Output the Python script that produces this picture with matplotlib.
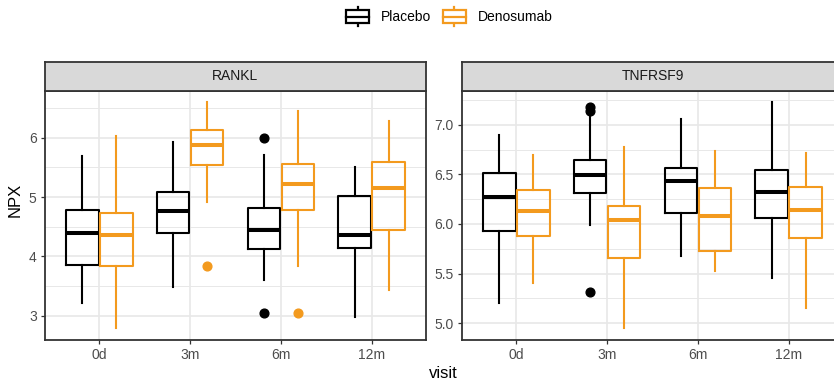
import matplotlib
matplotlib.use("Agg")
import matplotlib.pyplot as plt
from matplotlib.patches import Rectangle
from matplotlib.lines import Line2D
from matplotlib.legend_handler import HandlerBase
from matplotlib.ticker import MultipleLocator

plt.rcParams["font.family"] = ["Liberation Sans", "DejaVu Sans"]

visits = ["0d", "3m", "6m", "12m"]
groups = ["Placebo", "Denosumab"]

# five-number summaries per visit: whisker low, Q1, median, Q3, whisker high
rankl_placebo = [[3.21, 3.85, 4.40, 4.78, 5.69],
                 [3.49, 4.39, 4.77, 5.09, 5.93],
                 [3.60, 4.12, 4.45, 4.81, 5.71],
                 [2.98, 4.14, 4.36, 5.02, 5.51]]
rankl_denosumab = [[2.79, 3.83, 4.36, 4.73, 6.03],
                   [4.91, 5.54, 5.88, 6.14, 6.61],
                   [3.84, 4.78, 5.22, 5.56, 6.46],
                   [3.43, 4.45, 5.16, 5.59, 6.29]]
rankl_placebo_out = [[], [], [6.00, 3.04], []]
rankl_denosumab_out = [[], [3.83], [3.04], []]

tnf_placebo = [[5.20, 5.93, 6.27, 6.51, 6.90],
               [5.99, 6.31, 6.49, 6.64, 7.12],
               [5.68, 6.11, 6.43, 6.56, 7.06],
               [5.45, 6.06, 6.32, 6.54, 7.23]]
tnf_denosumab = [[5.40, 5.88, 6.13, 6.34, 6.69],
                 [4.95, 5.66, 6.04, 6.18, 6.78],
                 [5.53, 5.73, 6.08, 6.36, 6.74],
                 [5.15, 5.86, 6.14, 6.37, 6.72]]
tnf_placebo_out = [[], [7.18, 7.14, 5.31], [], []]
tnf_denosumab_out = [[], [], [], []]

rankl_ticks = [3, 4, 5, 6]
tnf_ticks = [5.0, 5.5, 6.0, 6.5, 7.0]

colors = {"Placebo": "#000000", "Denosumab": "#F39A1E"}
GRID = "#e8e8e8"
BORDER = "#333333"
TICKCOL = "#4d4d4d"

W, H = 834, 385
fig = plt.figure(figsize=(W / 100, H / 100), dpi=100)


def fig_rect(x0, y0, x1, y1):
    return [x0 / W, 1 - y1 / H, (x1 - x0) / W, (y1 - y0) / H]


def stats_list(summary, outliers):
    out = []
    for s, o in zip(summary, outliers):
        out.append(dict(whislo=s[0], q1=s[1], med=s[2], q3=s[3], whishi=s[4], fliers=o))
    return out


def draw_panel(px0, title, series, outs, ylim, yticks, ylabels, minor):
    ax = fig.add_axes(fig_rect(px0, 91, px0 + 381, 340))
    ax.set_facecolor("white")
    ax.set_axisbelow(True)
    ax.grid(True, which="major", color=GRID, lw=1.2)
    ax.yaxis.set_minor_locator(MultipleLocator(minor))
    ax.grid(True, which="minor", axis="y", color=GRID, lw=0.7)
    offsets = [-0.1875, 0.1875]
    for g, off in zip(groups, offsets):
        c = colors[g]
        pos = [i + 1 + off for i in range(len(visits))]
        ax.bxp(stats_list(series[g], outs[g]), positions=pos, widths=0.36,
               showcaps=False, patch_artist=False, manage_ticks=False,
               boxprops=dict(color=c, lw=1.5),
               whiskerprops=dict(color=c, lw=1.5),
               medianprops=dict(color=c, lw=2.9, solid_capstyle="butt"),
               flierprops=dict(marker="o", markerfacecolor=c, markeredgecolor=c,
                               markersize=6.3, linestyle="none"))
    ax.set_xlim(0.4, 4.6)
    ax.set_ylim(*ylim)
    ax.set_xticks(range(1, len(visits) + 1))
    ax.set_xticklabels(visits)
    ax.set_yticks(yticks)
    ax.set_yticklabels(ylabels)
    ax.tick_params(axis="both", which="major", colors=BORDER, labelcolor=TICKCOL,
                   labelsize=10, length=3, width=0.9, pad=3)
    ax.tick_params(axis="y", which="minor", length=0)
    for sp in ax.spines.values():
        sp.set_color(BORDER)
        sp.set_linewidth(1.3)
    strip = fig.add_axes(fig_rect(px0, 62, px0 + 381, 91))
    strip.set_facecolor("#d9d9d9")
    strip.set_xticks([])
    strip.set_yticks([])
    for sp in strip.spines.values():
        sp.set_color(BORDER)
        sp.set_linewidth(1.3)
    strip.text(0.5, 0.5, title, transform=strip.transAxes, ha="center", va="center",
               fontsize=10, color="#1a1a1a")
    return ax


ax1 = draw_panel(45, "RANKL",
                 {"Placebo": rankl_placebo, "Denosumab": rankl_denosumab},
                 {"Placebo": rankl_placebo_out, "Denosumab": rankl_denosumab_out},
                 (2.59, 6.79), rankl_ticks, [str(t) for t in rankl_ticks], 0.5)
ax2 = draw_panel(462, "TNFRSF9",
                 {"Placebo": tnf_placebo, "Denosumab": tnf_denosumab},
                 {"Placebo": tnf_placebo_out, "Denosumab": tnf_denosumab_out},
                 (4.83, 7.34), tnf_ticks, [f"{t:.1f}" for t in tnf_ticks], 0.25)

fig.text(15 / W, 1 - 200 / H, "NPX", rotation=90, ha="center", va="center", fontsize=12)
fig.text(443 / W, 1 - 373 / H, "visit", ha="center", va="center", fontsize=12)


class BoxKey(HandlerBase):
    def create_artists(self, legend, orig_handle, xdescent, ydescent, width, height,
                       fontsize, trans):
        c = orig_handle.get_color()
        cx = width / 2 - xdescent
        bw, bh = width * 0.95, height * 0.95
        by = -ydescent + (height - bh) / 2
        whisk = Line2D([cx, cx], [-ydescent - height * 0.2, -ydescent + height * 1.2],
                       color=c, lw=1.6)
        box = Rectangle((cx - bw / 2, by), bw, bh, facecolor="white", edgecolor=c, lw=1.6)
        med = Line2D([cx - bw / 2, cx + bw / 2], [by + bh / 2] * 2, color=c, lw=1.6)
        arts = [whisk, box, med]
        for a in arts:
            a.set_transform(trans)
        return arts


handles = [Line2D([], [], color=colors[g]) for g in groups]
fig.legend(handles, groups, loc="center", bbox_to_anchor=(449 / W, 1 - 17 / H),
           ncol=2, frameon=False, fontsize=10, handlelength=1.75, handleheight=1.15,
           handletextpad=0.8, columnspacing=0.8, borderpad=0.2,
           handler_map={Line2D: BoxKey()})

fig.savefig("out.png", dpi=100)
